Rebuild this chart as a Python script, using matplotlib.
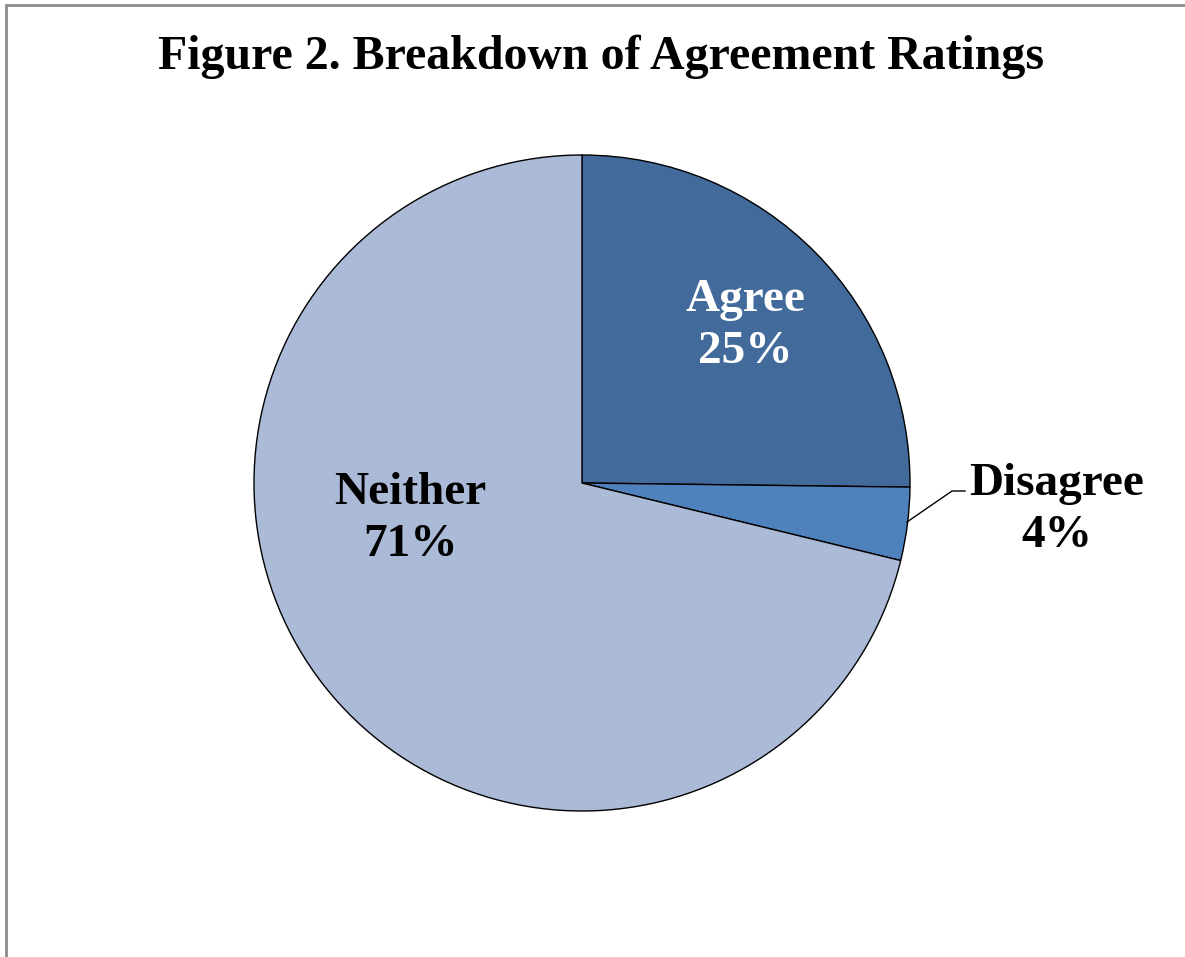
import matplotlib.pyplot as plt
from matplotlib.patches import Rectangle

# data (percent)
labels = ['Agree', 'Disagree', 'Neither']
values = [25.2, 3.6, 71.2]
colors = ['#426A9B', '#4F81BD', '#AABAD7']

plt.rcParams['font.family'] = ['Liberation Serif', 'DejaVu Serif']

W, H = 1185, 957
fig = plt.figure(figsize=(W / 100, H / 100), dpi=100, facecolor='white')

# gray frame like the exported chart area
fig.patches.append(Rectangle((5.5 / W, -0.01), 1.1, (H - 4.5) / H + 0.01,
                             transform=fig.transFigure, fill=False,
                             edgecolor='#8c8c8c', lw=2.0))

fig.text(601 / W, 1 - 57 / H, 'Figure 2. Breakdown of Agreement Ratings',
         ha='center', va='center', fontsize=34.5, fontweight='bold')

cx, cy, r = 582, 483, 328
ax = fig.add_axes([(cx - r) / W, (H - cy - r) / H, 2 * r / W, 2 * r / H])
ax.pie(values, colors=colors, startangle=90, counterclock=False,
       wedgeprops=dict(edgecolor='black', linewidth=1.0))
ax.set_xlim(-1, 1)
ax.set_ylim(-1, 1)
ax.set_aspect('equal')
ax.axis('off')

def px(x, y):
    return ((x - cx) / r, (cy - y) / r)

lab_pos = {'Agree': (745, 326), 'Disagree': (1057, 510), 'Neither': (410, 519)}
lab_col = {'Agree': 'white', 'Disagree': 'black', 'Neither': 'black'}
for name, v in zip(labels, values):
    x, y = px(*lab_pos[name])
    ax.text(x, y, '%s\n%d%%' % (name, round(v)), ha='center', va='center',
            fontsize=34, fontweight='bold', color=lab_col[name],
            linespacing=1.3, clip_on=False)

# leader line for Disagree
pts = [px(907, 522), px(952, 491), px(965, 491)]
ax.plot([p[0] for p in pts], [p[1] for p in pts], color='black', lw=1.0,
        clip_on=False)

fig.savefig('out.png', dpi=100)
